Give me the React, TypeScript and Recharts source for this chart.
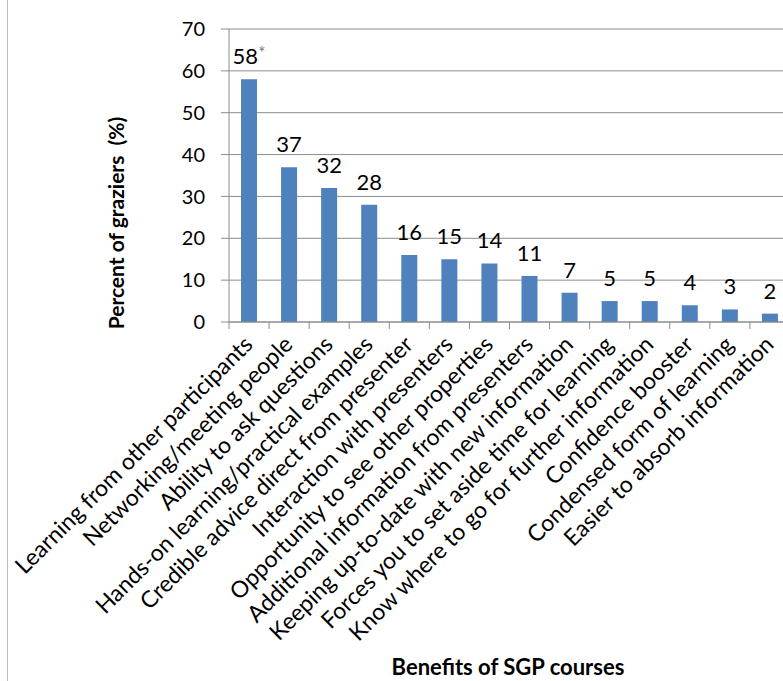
import React from "react";
import { BarChart, Bar, XAxis, YAxis, CartesianGrid, LabelList } from "recharts";

const categories = [
  "Learning from other participants",
  "Networking/meeting people",
  "Ability to ask questions",
  "Hands-on learning/practical examples",
  "Credible advice direct from presenter",
  "Interaction with presenters",
  "Opportunity to see other properties",
  "Additional information from presenters",
  "Keeping up-to-date with new information",
  "Forces you to set aside time for learning",
  "Know where to go for further information",
  "Confidence booster",
  "Condensed form of learning",
  "Easier to absorb information",
];
const percents = [58, 37, 32, 28, 16, 15, 14, 11, 7, 5, 5, 4, 3, 2];
const notes = ["*", "", "", "", "", "", "", "", "", "", "", "", "", ""];
const yTicks = [0, 10, 20, 30, 40, 50, 60, 70];

const data = categories.map((name, i) => ({ name, value: percents[i], note: notes[i] }));

const FONT = "Lato, 'Open Sans', sans-serif";
const GRID = "#8c8c8c";
const W = 792;
const H = 681;
const Y_AXIS_W = 229;
const RIGHT = 2;
const BAND = (W - Y_AXIS_W - RIGHT) / categories.length;

const CategoryTick = (props: any) => {
  const { x, y, payload } = props;
  const left = x - BAND / 2;
  return (
    <g>
      <line x1={left} x2={left} y1={y} y2={y + 7} stroke={GRID} />
      <text
        transform={`translate(${x + 5},${y + 24}) rotate(-45)`}
        textAnchor="end"
        fontFamily={FONT}
        fontSize={23}
        fill="#000"
      >
        {payload.value}
      </text>
    </g>
  );
};

const ValueLabel = (props: any) => {
  const { x, y, width, value, index } = props;
  const note = notes[index];
  return (
    <text
      x={x + width / 2}
      y={y - 15}
      textAnchor="middle"
      fontFamily={FONT}
      fontSize={22}
      fill="#000"
    >
      {value}
      {note ? (
        <tspan fontSize={17} fill="#777" dy={-5}>
          {note}
        </tspan>
      ) : null}
    </text>
  );
};

export default function App() {
  return (
    <div style={{ position: "absolute", left: 0, top: 0, width: 783, height: H, overflow: "hidden", background: "#fff" }}>
      <div style={{ position: "absolute", left: 7, top: 0, width: 1, height: H, background: "#bdbdbd" }} />
      <BarChart
        width={W}
        height={H}
        data={data}
        margin={{ top: 29, right: RIGHT, left: 0, bottom: 0 }}
        barSize={16}
      >
        <CartesianGrid vertical={false} stroke={GRID} />
        <XAxis
          dataKey="name"
          height={359}
          interval={0}
          tickSize={0}
          tickMargin={0}
          tickLine={false}
          stroke={GRID}
          tick={<CategoryTick />}
          label={{
            content: () => (
              <text x={508} y={675} textAnchor="middle" fontFamily={FONT} fontWeight="bold" fontSize={22} fill="#000">
                Benefits of SGP courses
              </text>
            ),
          }}
        />
        <YAxis
          width={Y_AXIS_W}
          domain={[0, 70]}
          ticks={yTicks}
          interval={0}
          tickSize={8}
          tickMargin={16}
          stroke={GRID}
          tick={{ fill: "#000", fontFamily: FONT, fontSize: 20 }}
          label={{
            content: () => (
              <text
                transform="translate(124,223) rotate(-90)"
                textAnchor="middle"
                fontFamily={FONT}
                fontWeight="bold"
                fontSize={21}
                fill="#000"
                style={{ whiteSpace: "pre" }}
              >
                Percent of graziers  (%)
              </text>
            ),
          }}
        />
        <Bar dataKey="value" fill="#4f81bd" isAnimationActive={false}>
          <LabelList dataKey="value" content={<ValueLabel />} />
        </Bar>
      </BarChart>
    </div>
  );
}
